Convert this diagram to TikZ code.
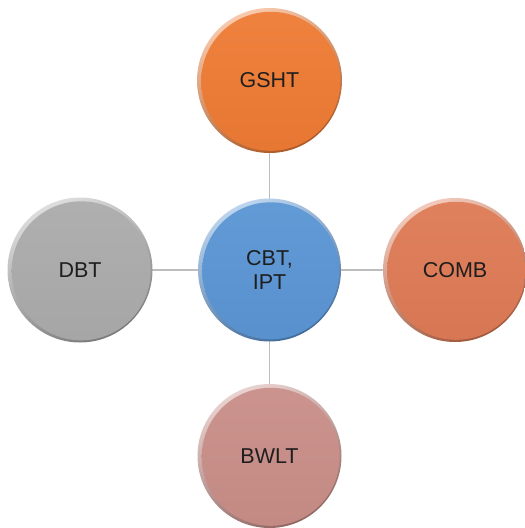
\documentclass[tikz,border=0pt]{standalone}
\usepackage{fontspec}
\setmainfont{Liberation Sans}
\definecolor{txt}{HTML}{1E1E1E}
\definecolor{linkgray}{HTML}{BDBDBD}
\definecolor{cOrange}{HTML}{EE7B34}
\definecolor{cBlue}{HTML}{5A95D4}
\definecolor{cGray}{HTML}{ABABAB}
\definecolor{cCoral}{HTML}{DE7A55}
\definecolor{cRose}{HTML}{C98E88}
\tikzset{
  link/.style={draw=linkgray, line width=1.1pt},
  hub/.style={circle, minimum size=145pt, inner sep=0pt, text=txt,
    font=\fontsize{21.5}{24.5}\selectfont, align=center}
}
% a bevelled disc: light-to-dark rim, then the body slightly inside it
\newcommand{\bevdisc}[4]{% centre x, centre y, colour, radius
  \shade[top color=#3!40!white, bottom color=#3!72!black, shading angle=25]
    (#1,#2) circle (#4);
  \shade[top color=#3!95!white, bottom color=#3!97!black]
    (#1+1.2,#2+0.8) circle (#4-3.0);
}
\begin{document}
\begin{tikzpicture}[x=1pt,y=-1pt]
\useasboundingbox (0,0) rectangle (525,528);
% invisible anchor nodes for the connectors
\node[hub] (c) at (269.5,270) {};
\node[hub] (t) at (269.5,80.5) {};
\node[hub] (l) at (80,270) {};
\node[hub] (r) at (455,270) {};
\node[hub] (b) at (269.5,456) {};
\draw[link] (c.center) -- (t.center);
\draw[link] (c.center) -- (b.center);
\draw[link] (c.center) -- (l.center);
\draw[link] (c.center) -- (r.center);
% discs
\bevdisc{269.5}{80.5}{cOrange}{72.5}
\bevdisc{269.5}{270}{cBlue}{71.5}
\bevdisc{80}{270}{cGray}{72.5}
\bevdisc{455}{270}{cCoral}{72}
\bevdisc{269.5}{456}{cRose}{72}
% labels
\node[hub] at (t) {GSHT};
\node[hub] at (c) {CBT,\\IPT};
\node[hub] at (l) {DBT};
\node[hub] at (r) {COMB};
\node[hub] at (b) {BWLT};
\end{tikzpicture}
\end{document}
